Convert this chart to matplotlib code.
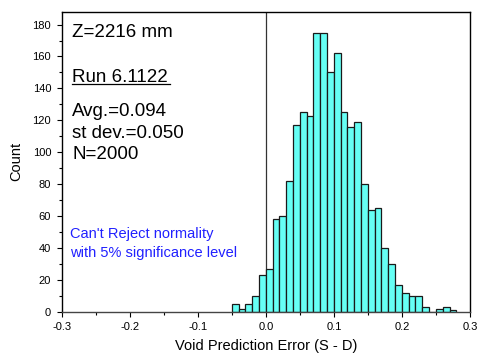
import matplotlib
matplotlib.use("Agg")
import matplotlib.pyplot as plt
from matplotlib.ticker import MultipleLocator

plt.rcParams['font.family'] = ['Liberation Sans', 'DejaVu Sans']

bin_starts = [-0.05, -0.04, -0.03, -0.02, -0.01, 0.00, 0.01, 0.02, 0.03, 0.04,
              0.05, 0.06, 0.07, 0.08, 0.09, 0.10, 0.11, 0.12, 0.13, 0.14,
              0.15, 0.16, 0.17, 0.18, 0.19, 0.20, 0.21, 0.22, 0.23, 0.24,
              0.25, 0.26, 0.27]
counts = [5, 2, 5, 10, 23, 27, 58, 60, 82, 117,
          125, 123, 175, 175, 150, 162, 125, 116, 119, 80,
          64, 65, 40, 30, 17, 12, 10, 10, 3, 0,
          2, 3, 1]
bin_width = 0.01

x_ticks = [-0.3, -0.2, -0.1, 0.0, 0.1, 0.2, 0.3]
x_ticklabels = ['-0.3', '-0.2', '-0.1', '0.0', '0.1', '0.2', '0.3']
y_ticks = [0, 20, 40, 60, 80, 100, 120, 140, 160, 180]

fig = plt.figure(figsize=(4.8, 3.58), dpi=100)
ax = fig.add_axes([0.1285, 0.1293, 0.979 - 0.1285, 0.967 - 0.1293])

ax.bar(bin_starts, counts, width=bin_width, align='edge',
       color='#66FFF5', edgecolor='#1a1a1a', linewidth=0.9, zorder=2)
ax.axvline(0.0, color='#333333', linewidth=0.9, zorder=1)

ax.set_xlim(-0.3, 0.3)
ax.set_ylim(0, 188)
ax.set_xticks(x_ticks)
ax.set_xticklabels(x_ticklabels)
ax.set_yticks(y_ticks)
ax.xaxis.set_minor_locator(MultipleLocator(0.05))
ax.yaxis.set_minor_locator(MultipleLocator(10))
ax.tick_params(which='major', direction='out', length=3.6, width=0.8, labelsize=8)
ax.tick_params(axis='x', which='major', pad=3.5)
ax.tick_params(axis='y', which='major', pad=4)
ax.tick_params(which='minor', direction='out', length=2.2, width=0.8)
ax.tick_params(top=False, right=False)
for s in ax.spines.values():
    s.set_linewidth(1.0)
ax.spines['bottom'].set_color('#444444')

ax.set_xlabel('Void Prediction Error (S - D)', fontsize=10.5, labelpad=5)
ax.set_ylabel('Count', fontsize=10.5, labelpad=7)

def px(x, y):
    return fig.transFigure.inverted().transform((x, 358 - y))

ax.text(*px(72, 36.7), 'Z=2216 mm', transform=fig.transFigure, fontsize=13.5,
        va='baseline', ha='left')
ax.text(*px(72, 81.7), 'Run 6.1122', transform=fig.transFigure, fontsize=13.5,
        va='baseline', ha='left')
u0, u1 = px(72, 84), px(170, 84)
ax.plot([u0[0], u1[0]], [u0[1], u1[1]],
        transform=fig.transFigure, color='black', linewidth=0.9, clip_on=False)
ax.text(*px(72, 116), 'Avg.=0.094', transform=fig.transFigure, fontsize=13.5,
        va='baseline', ha='left')
ax.text(*px(72, 137.7), 'st dev.=0.050', transform=fig.transFigure, fontsize=13.5,
        va='baseline', ha='left')
ax.text(*px(72, 159.3), 'N=2000', transform=fig.transFigure, fontsize=13.5,
        va='baseline', ha='left')
ax.text(*px(70, 238.3), "Can't Reject normality", transform=fig.transFigure,
        fontsize=10.5, color='#2020ff', va='baseline', ha='left')
ax.text(*px(70, 256.7), "with 5% significance level", transform=fig.transFigure,
        fontsize=10.5, color='#2020ff', va='baseline', ha='left')

fig.savefig('out.png', dpi=100)
